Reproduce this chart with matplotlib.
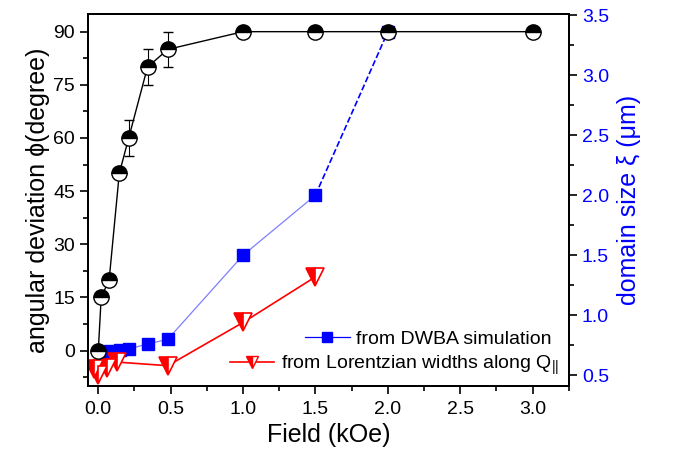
import matplotlib
matplotlib.use("Agg")
import matplotlib.pyplot as plt
from matplotlib.ticker import MultipleLocator
from matplotlib.lines import Line2D

plt.rcParams['font.family'] = ['Liberation Sans', 'DejaVu Sans']
plt.rcParams['mathtext.fontset'] = 'custom'
plt.rcParams['mathtext.rm'] = 'Liberation Sans'
plt.rcParams['mathtext.it'] = 'Liberation Sans:italic'

# angular deviation (left axis)
field_phi = [0.0, 0.02, 0.075, 0.145, 0.21, 0.34, 0.48, 1.0, 1.5, 2.0, 3.0]
phi = [0, 15, 20, 50, 60, 80, 85, 90, 90, 90, 90]
phi_err = [0, 0, 0, 0, 5, 5, 5, 0, 0, 0, 0]

# domain size from DWBA (right axis)
field_dwba = [0.0, 0.03, 0.08, 0.15, 0.21, 0.34, 0.48, 1.0, 1.5, 2.0]
xi_dwba = [0.58, 0.68, 0.70, 0.71, 0.72, 0.76, 0.80, 1.5, 2.0, 3.36]

# domain size from Lorentzian widths (right axis)
field_lor = [-0.03, 0.0, 0.06, 0.13, 0.48, 1.0, 1.5]
xi_lor = [0.55, 0.50, 0.56, 0.61, 0.58, 0.94, 1.32]

legend_labels = ["from DWBA simulation", "from Lorentzian widths along Q$_{||}$"]

fig = plt.figure(figsize=(6.73, 4.5), dpi=100)
ax = fig.add_axes([0.131, 0.142, 0.714, 0.827])
ax2 = ax.twinx()
ax.set_zorder(ax2.get_zorder() + 1)
ax.patch.set_visible(False)

# black series
ax.errorbar(field_phi, phi, yerr=phi_err, color='black', lw=1.0,
            marker='o', markersize=11, fillstyle='top',
            markerfacecolor='black', markerfacecoloralt='white',
            markeredgecolor='black', markeredgewidth=1.0,
            ecolor='black', elinewidth=0.8, capsize=3.5, capthick=0.8, zorder=5)

# blue series
ax2.plot(field_dwba[:-1], xi_dwba[:-1], color='#7f7fff', lw=0.9, zorder=2)
ax2.plot(field_dwba[-2:], xi_dwba[-2:], color='blue', lw=1.2, ls='--', zorder=2)
ax2.plot(field_dwba, xi_dwba, ls='none', marker='s', markersize=9,
         color='blue', zorder=3)

# red series
ax2.plot(field_lor, xi_lor, color='red', lw=1.2,
         marker='v', markersize=13, fillstyle='left',
         markerfacecolor='red', markerfacecoloralt='white',
         markeredgecolor='red', markeredgewidth=1.2, zorder=4)

ax.set_xlim(-0.07, 3.25)
ax.set_ylim(-10, 95)
ax2.set_ylim(0.41, 3.51)

ax.xaxis.set_major_locator(MultipleLocator(0.5))
ax.xaxis.set_minor_locator(MultipleLocator(0.25))
ax.yaxis.set_major_locator(MultipleLocator(15))
ax.yaxis.set_minor_locator(MultipleLocator(7.5))
ax2.yaxis.set_major_locator(MultipleLocator(0.5))
ax2.yaxis.set_minor_locator(MultipleLocator(0.25))
ax.xaxis.set_major_formatter(plt.FuncFormatter(lambda v, p: f"{v:.1f}"))
ax2.yaxis.set_major_formatter(plt.FuncFormatter(lambda v, p: f"{v:.1f}"))

for a in (ax, ax2):
    for s in a.spines.values():
        s.set_linewidth(1.4)
ax.tick_params(axis='both', which='major', direction='out', length=6, width=1.2, labelsize=14)
ax.tick_params(axis='both', which='minor', direction='out', length=3.5, width=1.2)
ax.tick_params(axis='x', top=False, pad=5)
ax2.tick_params(axis='y', which='major', direction='out', length=6, width=1.2,
                labelsize=14, labelcolor='blue')
ax2.tick_params(axis='y', which='minor', direction='out', length=3.5, width=1.2)

ax.set_xlabel("Field (kOe)", fontsize=18, labelpad=3)
ax.set_ylabel("angular deviation ϕ(degree)", fontsize=18, labelpad=2)
ax2.set_ylabel("domain size ξ (μm)", fontsize=18, color='blue', labelpad=6)

blue_handle = Line2D([], [], color='blue', lw=0.9, marker='s', markersize=6.5)
red_handle = Line2D([], [], color='red', lw=1.2, marker='v', markersize=9,
                    fillstyle='left', markerfacecolor='red',
                    markerfacecoloralt='white', markeredgecolor='red')

leg1 = ax2.legend([blue_handle], [legend_labels[0]], loc='center right',
                  bbox_to_anchor=(0.965, 0.126), frameon=False, fontsize=14,
                  handlelength=2.3, handletextpad=0.35, borderpad=0, borderaxespad=0)
ax2.add_artist(leg1)
ax2.legend([red_handle], [legend_labels[1]], loc='center right',
           bbox_to_anchor=(0.98, 0.055), frameon=False, fontsize=14,
           handlelength=2.3, handletextpad=0.35, borderpad=0, borderaxespad=0)

fig.savefig("out.png", dpi=100)
